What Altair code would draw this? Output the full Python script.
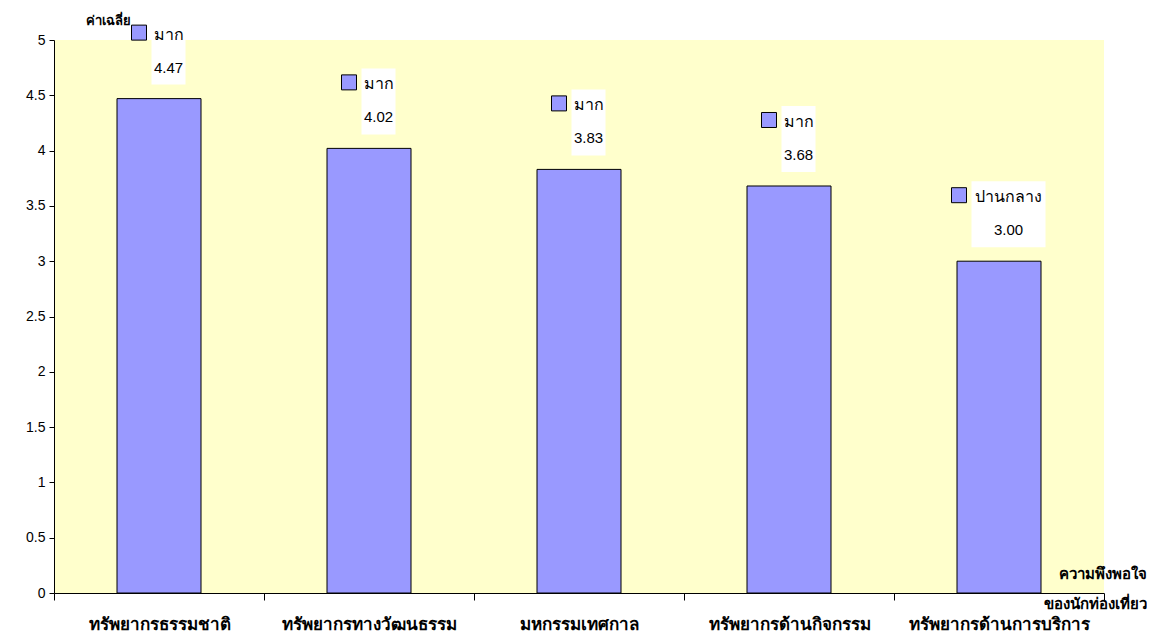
import altair as alt
import pandas as pd

categories = ["ทรัพยากรธรรมชาติ", "ทรัพยากรทางวัฒนธรรม", "มหกรรมเทศกาล",
              "ทรัพยากรด้านกิจกรรม", "ทรัพยากรด้านการบริการ"]
values = [4.47, 4.02, 3.83, 3.68, 3.00]
levels = ["มาก", "มาก", "มาก", "มาก", "ปานกลาง"]
y_ticks = [0, 0.5, 1, 1.5, 2, 2.5, 3, 3.5, 4, 4.5, 5]

df = pd.DataFrame({"cat": categories, "value": values, "level": levels})
df["vtxt"] = [f"{v:.2f}" for v in values]

FONT = "Liberation Sans"
BAR = "#9999FF"

x = alt.X("cat:N", sort=categories,
          scale=alt.Scale(paddingInner=0, paddingOuter=0),
          axis=alt.Axis(title=["ความพึงพอใจ", "ของนักท่องเที่ยว"], titleFont=FONT,
                        titleFontSize=15, titleFontWeight="bold", titleColor="black",
                        titleAlign="right", titleAnchor="end", titleX=1092, titleY=-20,
                        titleBaseline="middle", titleLineHeight=30,
                        labelAngle=0, labelFont=FONT, labelFontSize=17, labelFontWeight="bold",
                        labelColor="black", labelPadding=24, labelBaseline="middle",
                        labelLimit=300, tickBand="extent", labelOverlap=False,
                        tickSize=7, tickColor="black", domainColor="black", grid=False))
y = alt.Y("value:Q", scale=alt.Scale(domain=[0, 5], nice=False),
          axis=alt.Axis(values=y_ticks, format="~g", title="ค่าเฉลี่ย", titleAngle=0,
                        titleX=54, titleY=-20,
                        titleAlign="center", titleBaseline="middle", titleFont=FONT,
                        titleFontSize=13, titleFontWeight="bold", titleColor="black",
                        labelFont=FONT, labelFontSize=14, labelColor="black", labelPadding=4,
                        tickSize=5, tickColor="black", domainColor="black", grid=False,
                        labelFlush=False))

base = alt.Chart(df)

bars = base.mark_bar(width=84, color=BAR, stroke="black", strokeWidth=1).encode(x=x, y=y)

label_w = {"มาก": 34, "ปานกลาง": 74}
sq_off = {"มาก": -20, "ปานกลาง": -40}

layers = [bars]
for lvl, w in label_w.items():
    sub = base.transform_filter(alt.datum.level == lvl)
    layers.append(sub.mark_bar(width=w, xOffset=9.5, yOffset=-80, y2Offset=-14,
                               color="white").encode(x=x, y=y, y2=alt.Y2("value:Q")))
    layers.append(sub.mark_point(shape="square", size=225, filled=True, fill=BAR,
                                 stroke="black", strokeWidth=1, opacity=1,
                                 xOffset=sq_off[lvl], yOffset=-66).encode(x=x, y=y))

lvl_text = base.mark_text(font=FONT, fontSize=16, color="black", xOffset=9.5, yOffset=-64,
                          baseline="middle").encode(x=x, y=y, text="level:N")
val_text = base.mark_text(font=FONT, fontSize=15, color="black", xOffset=9.5, yOffset=-31,
                          baseline="middle").encode(x=x, y=y, text="vtxt:N")
layers += [lvl_text, val_text]

chart = alt.layer(*layers).properties(
    width=1050, height=553,
    autosize=alt.AutoSizeParams(type="none"),
    padding={"left": 46, "top": 32, "right": 43, "bottom": 42},
    background="white",
).configure_view(fill="#FFFFCC", stroke=None)

chart.save("out.html", embed_options={"renderer": "svg", "actions": False})
